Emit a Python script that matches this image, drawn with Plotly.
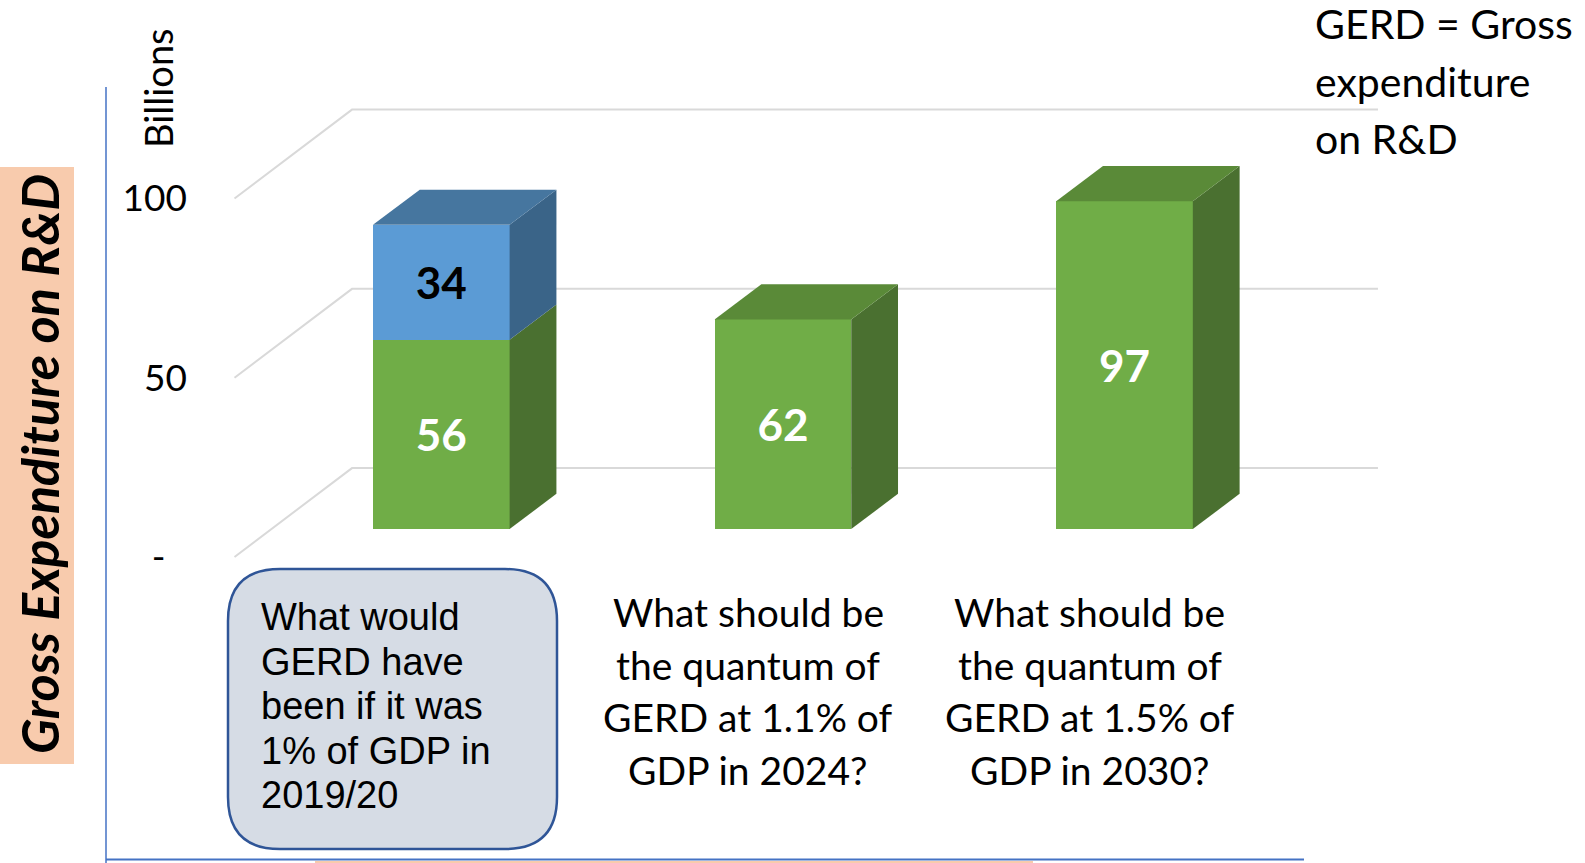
import plotly.graph_objects as go

# ---------------- data ----------------
categories = [
    "What would GERD have been if it was 1% of GDP in 2019/20",
    "What should be the quantum of GERD at 1.1% of GDP in 2024?",
    "What should be the quantum of GERD at 1.5% of GDP in 2030?",
]
category_lines = [
    ["What would", "GERD have", "been if it was", "1% of GDP in", "2019/20"],
    ["What should be", "the quantum of", "GERD at 1.1% of", "GDP in 2024?"],
    ["What should be", "the quantum of", "GERD at 1.5% of", "GDP in 2030?"],
]
green_values = [56, 62, 97]
blue_values = [34, 0, 0]
tick_values = [0, 50, 100]
tick_labels = ["-\u2007", "50", "100"]
note_lines = ["GERD = Gross", "expenditure", "on R&D"]

# ---------------- geometry / style constants ----------------
W, H = 1585, 863
X_UNIT = 341.6          # px per category step
X0_PX = 441.3           # px of first category centre
BAR_Y0_PX, BAR_SCALE = 529, 3.38     # bar value axis
WALL_Y0_PX, WALL_SCALE = 557, 3.585  # wall (tick) axis
BAR_W = 0.4
BAR_DX, BAR_DY = 0.137, 10.4         # bar depth (cat units, bar units)
WALL_FRONT_X, WALL_BACK_X, WALL_RIGHT_X = -0.6054, -0.2614, 2.742
WALL_DY = 24.8

GREEN, GREEN_TOP, GREEN_SIDE = "#70AD47", "#5A8A38", "#4A7030"
BLUE, BLUE_TOP, BLUE_SIDE = "#5B9BD5", "#46769F", "#3A6488"
GRID = "#D9D9D9"
FONT = "Lato"

xs = list(range(len(categories)))

fig = go.Figure()

# wall gridlines (wall axis y)
gx, gy = [], []
for v in tick_values:
    gx += [WALL_FRONT_X, WALL_BACK_X, WALL_RIGHT_X, None]
    gy += [v, v + WALL_DY, v + WALL_DY, None]
fig.add_trace(go.Scatter(x=gx, y=gy, mode="lines", line=dict(color=GRID, width=2),
                         hoverinfo="skip", showlegend=False, xaxis="x", yaxis="y"))

# front faces (bar axis y2)
fig.add_trace(go.Bar(x=xs, y=green_values, width=BAR_W, marker=dict(color=GREEN, line=dict(width=0)),
                     text=[str(v) for v in green_values], textposition="inside",
                     insidetextanchor="middle", constraintext="none",
                     textfont=dict(family=FONT, size=44, color="white", weight="bold"),
                     showlegend=False, xaxis="x", yaxis="y2"))
fig.add_trace(go.Bar(x=xs, y=[b if b else None for b in blue_values], width=BAR_W,
                     marker=dict(color=BLUE, line=dict(width=0)),
                     text=[str(v) if v else "" for v in blue_values], textposition="inside",
                     insidetextanchor="middle", constraintext="none",
                     textfont=dict(family=FONT, size=44, color="black", weight="bold"),
                     showlegend=False, xaxis="x", yaxis="y2"))

# 3D side and top faces
def poly(px, py, color):
    fig.add_trace(go.Scatter(x=px + [px[0]], y=py + [py[0]], mode="lines", fill="toself",
                             fillcolor=color, line=dict(width=0, color=color),
                             hoverinfo="skip", showlegend=False, xaxis="x", yaxis="y2"))

for i, (g, b) in enumerate(zip(green_values, blue_values)):
    xl, xr = i - BAR_W / 2, i + BAR_W / 2
    segs = [(0, g, GREEN_SIDE, GREEN_TOP)]
    if b:
        segs.append((g, g + b, BLUE_SIDE, BLUE_TOP))
    for y0, y1, side, _ in segs:
        poly([xr, xr + BAR_DX, xr + BAR_DX, xr], [y0, y0 + BAR_DY, y1 + BAR_DY, y1], side)
    top = segs[-1][1]
    poly([xl, xl + BAR_DX, xr + BAR_DX, xr], [top, top + BAR_DY, top + BAR_DY, top], segs[-1][3])

fig.update_layout(
    width=W, height=H, margin=dict(l=0, r=0, t=0, b=0, pad=0),
    paper_bgcolor="white", plot_bgcolor="rgba(0,0,0,0)",
    barmode="stack", showlegend=False,
    xaxis=dict(range=[-X0_PX / X_UNIT, (W - X0_PX) / X_UNIT], visible=False, fixedrange=True),
    yaxis=dict(range=[-(H - WALL_Y0_PX) / WALL_SCALE, WALL_Y0_PX / WALL_SCALE],
               tickvals=tick_values, ticktext=tick_labels, showgrid=False, zeroline=False,
               showline=False, ticks="", anchor="free", position=187 / W,
               tickfont=dict(family=FONT, size=37, color="black"), fixedrange=True),
    yaxis2=dict(range=[-(H - BAR_Y0_PX) / BAR_SCALE, BAR_Y0_PX / BAR_SCALE], overlaying="y",
                visible=False, fixedrange=True),
)

def px2paper(x, y):
    return x / W, 1 - y / H

# left orange title box
fig.add_shape(type="rect", xref="paper", yref="paper", x0=0, x1=74 / W,
              y0=1 - 764 / H, y1=1 - 167 / H, fillcolor="#F8CBAD", line=dict(width=0), layer="below")
fig.add_annotation(xref="paper", yref="paper", x=39 / W, y=1 - 464 / H, showarrow=False,
                   xanchor="center", yanchor="middle",
                   text="<b><i>Gross Expenditure on R&D</i></b>", textangle=-90,
                   font=dict(family=FONT, size=52, color="black"))

# frame lines
fig.add_shape(type="line", xref="paper", yref="paper", x0=106 / W, x1=106 / W, y0=0, y1=1 - 87 / H,
              line=dict(color="#4472C4", width=1.5))
fig.add_shape(type="line", xref="paper", yref="paper", x0=106 / W, x1=1304 / W,
              y0=1 - 859.5 / H, y1=1 - 859.5 / H, line=dict(color="#4472C4", width=2))
fig.add_shape(type="rect", xref="paper", yref="paper", x0=315 / W, x1=1033 / W,
              y0=0, y1=1 - 861 / H, fillcolor="#F8CBAD", line=dict(width=0))

# Billions
fig.add_annotation(xref="paper", yref="paper", x=158 / W, y=1 - 88 / H, showarrow=False,
                   xanchor="center", yanchor="middle",
                   text="Billions", textangle=-90, font=dict(family=FONT, size=38, color="black"))

# GERD definition
NOTE_X, NOTE_Y0, NOTE_DY = 1313, 24, 57.5
for k, line in enumerate(note_lines):
    fig.add_annotation(xref="paper", yref="paper", x=NOTE_X / W, y=1 - (NOTE_Y0 + k * NOTE_DY) / H,
                       showarrow=False, xanchor="left", yanchor="middle", text=line,
                       font=dict(family=FONT, size=41, color="black"))

# rounded box for first category
bx0, by0, bx1, by1, r = 228, 569, 557, 849, 52
def P(x, y):
    a, b = px2paper(x, y)
    return f"{a:.5f},{b:.5f}"
path = (f"M {P(bx0 + r, by0)} L {P(bx1 - r, by0)} Q {P(bx1, by0)} {P(bx1, by0 + r)} "
        f"L {P(bx1, by1 - r)} Q {P(bx1, by1)} {P(bx1 - r, by1)} "
        f"L {P(bx0 + r, by1)} Q {P(bx0, by1)} {P(bx0, by1 - r)} "
        f"L {P(bx0, by0 + r)} Q {P(bx0, by0)} {P(bx0 + r, by0)} Z")
fig.add_shape(type="path", xref="paper", yref="paper", path=path,
              fillcolor="#D6DCE5", line=dict(color="#2F5597", width=2.5))

BOX_TX, BOX_Y0, BOX_DY = 259, 617, 44.5
for k, line in enumerate(category_lines[0]):
    fig.add_annotation(xref="paper", yref="paper", x=BOX_TX / W, y=1 - (BOX_Y0 + k * BOX_DY) / H,
                       showarrow=False, xanchor="left", yanchor="middle", text=line,
                       font=dict(family="Liberation Sans", size=38, color="black"))

# category labels 2 and 3
LABEL_SHIFT, LAB_Y0, LAB_DY = -0.102, 612, 52.6
for i in (1, 2):
    for k, line in enumerate(category_lines[i]):
        fig.add_annotation(xref="x", yref="paper", x=xs[i] + LABEL_SHIFT,
                           y=1 - (LAB_Y0 + k * LAB_DY) / H,
                           showarrow=False, xanchor="center", yanchor="middle", text=line,
                           font=dict(family=FONT, size=39, color="black"))

fig.write_html("out.html")
